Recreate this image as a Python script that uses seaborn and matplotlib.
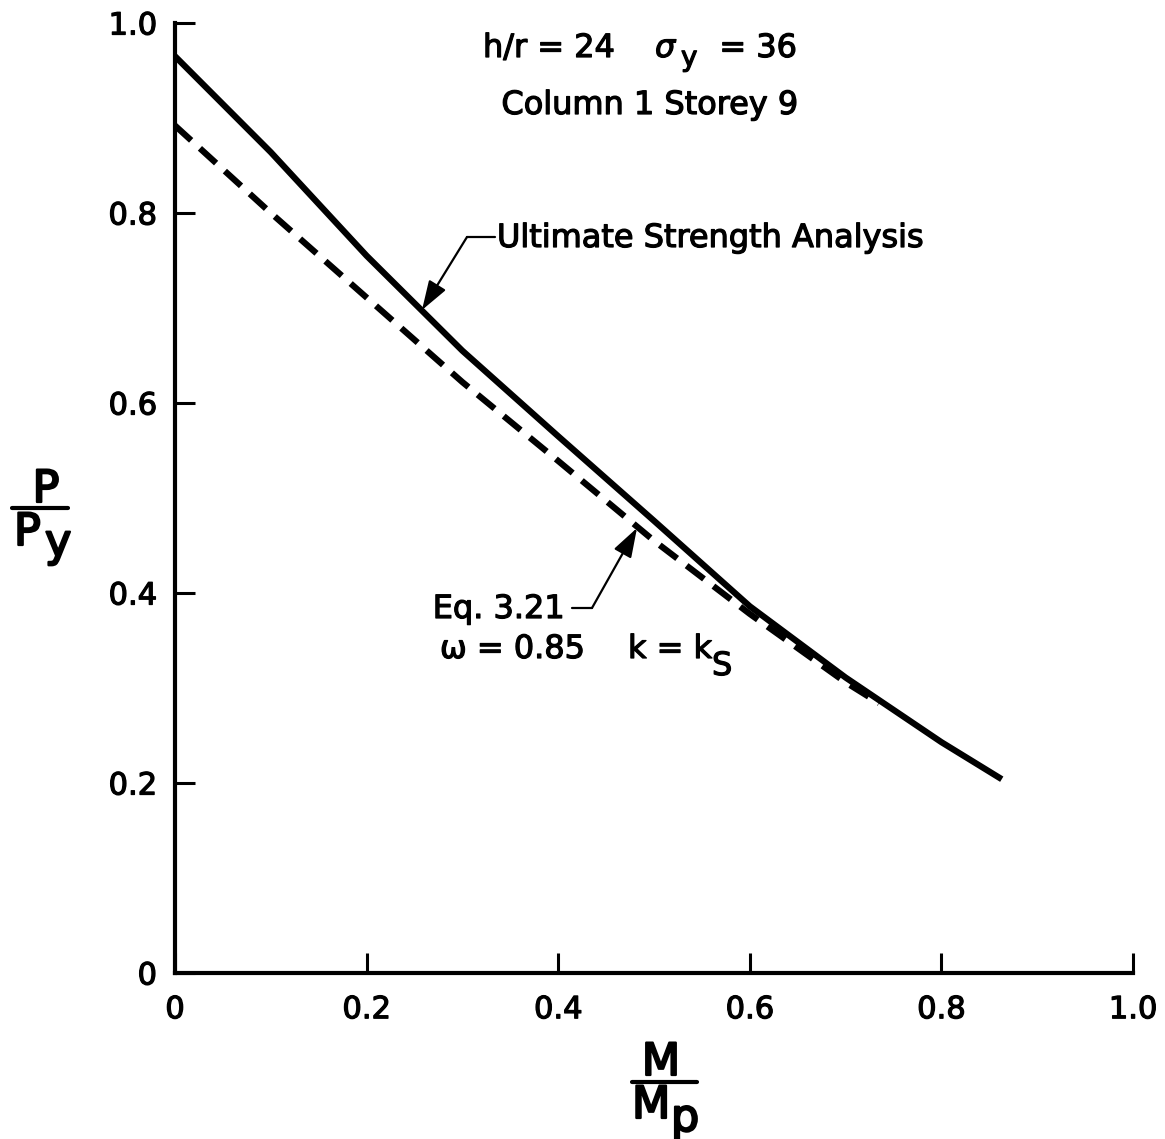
import matplotlib
matplotlib.use('Agg')
import matplotlib.pyplot as plt
import matplotlib.patheffects as pe
from matplotlib.lines import Line2D
import seaborn as sns
import pandas as pd

# ---- data ----
m_ultimate = [0.0, 0.1, 0.2, 0.3, 0.4, 0.5, 0.6, 0.7, 0.8, 0.863]
p_ultimate = [0.965, 0.864, 0.755, 0.655, 0.565, 0.476, 0.386, 0.311, 0.243, 0.204]

m_eq321 = [0.0, 0.1, 0.2, 0.3, 0.4, 0.5, 0.6, 0.7, 0.735]
p_eq321 = [0.892, 0.800, 0.711, 0.622, 0.539, 0.455, 0.378, 0.306, 0.284]

x_ticks = [0, 0.2, 0.4, 0.6, 0.8, 1.0]
x_tick_labels = ['0', '0.2', '0.4', '0.6', '0.8', '1.0']
y_ticks = [0, 0.2, 0.4, 0.6, 0.8, 1.0]
y_tick_labels = ['0', '0.2', '0.4', '0.6', '0.8', '1.0']

W, H = 1165, 1139

sns.set_style('ticks')
plt.rcParams['font.family'] = ['DejaVu Sans']
plt.rcParams['mathtext.fontset'] = 'dejavusans'

fig = plt.figure(figsize=(W / 100, H / 100), dpi=100)
ax = fig.add_axes([175 / W, 1 - 973 / H, (1133 - 175) / W, (973 - 23) / H])

df_u = pd.DataFrame({'M': m_ultimate, 'P': p_ultimate})
df_e = pd.DataFrame({'M': m_eq321, 'P': p_eq321})

sns.lineplot(data=df_u, x='M', y='P', ax=ax, color='black', linewidth=4.5,
             solid_capstyle='butt', solid_joinstyle='round')
sns.lineplot(data=df_e, x='M', y='P', ax=ax, color='black', linewidth=4.5,
             linestyle=(0, (3.5, 1.9)), dash_capstyle='butt')

ax.set_xlim(0, 1.0)
ax.set_ylim(0, 1.0)
ax.set_xticks(x_ticks)
ax.set_xticklabels(x_tick_labels)
ax.set_yticks(y_ticks)
ax.set_yticklabels(y_tick_labels)
ax.set_xlabel('')
ax.set_ylabel('')

for s in ['top', 'right']:
    ax.spines[s].set_visible(False)
for s in ['left', 'bottom']:
    ax.spines[s].set_linewidth(3)
    ax.spines[s].set_color('black')

ax.tick_params(direction='in', length=14.5, width=2.2, colors='black', labelsize=22)
ax.tick_params(axis='x', pad=16)
ax.tick_params(axis='y', pad=13)

thick = [pe.withStroke(linewidth=0.9, foreground='black')]
for lab in ax.get_xticklabels() + ax.get_yticklabels():
    lab.set_path_effects(thick)

def px(x):
    return (x - 175) / 958.0

def py(y):
    return (973 - y) / 950.0

txt = dict(color='black', fontsize=23, path_effects=thick)

# header texts
ax.text(px(483), py(57), 'h/r = 24', ha='left', va='baseline', **txt)
ax.text(px(655), py(57), 'σ', ha='left', va='baseline', style='italic', **txt)
ax.text(px(681), py(66), 'y', ha='left', va='baseline', color='black', fontsize=20,
        path_effects=thick)
ax.text(px(797), py(57), '= 36', ha='right', va='baseline', **txt)
ax.text(px(650), py(114), 'Column 1 Storey 9', ha='center', va='baseline', **txt)

# annotation: ultimate strength analysis
ax.annotate('', xy=(px(422), py(310)), xytext=(px(467), py(237)),
            arrowprops=dict(arrowstyle='-|>,head_length=0.6,head_width=0.2',
                            mutation_scale=30, color='black', lw=1.6,
                            shrinkA=0, shrinkB=0))
ax.annotate('', xy=(px(467), py(237)), xytext=(px(495), py(237)),
            arrowprops=dict(arrowstyle='-', color='black', lw=1.6,
                            shrinkA=0, shrinkB=0))
ax.text(px(497), py(247), 'Ultimate Strength Analysis', ha='left', va='baseline', **txt)

# annotation: Eq. 3.21
ax.annotate('', xy=(px(637), py(528)), xytext=(px(592), py(608)),
            arrowprops=dict(arrowstyle='-|>,head_length=0.6,head_width=0.2',
                            mutation_scale=30, color='black', lw=1.6,
                            shrinkA=0, shrinkB=0))
ax.annotate('', xy=(px(592), py(608)), xytext=(px(572), py(608)),
            arrowprops=dict(arrowstyle='-', color='black', lw=1.6,
                            shrinkA=0, shrinkB=0))
ax.text(px(565), py(618), 'Eq. 3.21', ha='right', va='baseline', **txt)
ax.text(px(440), py(658), 'ω = 0.85', ha='left', va='baseline', **txt)
ax.text(px(628), py(658), 'k = k', ha='left', va='baseline', **txt)
ax.text(px(712), py(675), 'S', ha='left', va='baseline', **txt)

# axis labels as fractions
big = dict(color='black', fontsize=32, path_effects=[pe.withStroke(linewidth=1.6, foreground='black')])
fig.text(46 / W, 1 - 502 / H, 'P', ha='center', va='baseline', **big)
fig.text(14 / W, 1 - 545 / H, 'P', ha='left', va='baseline', **big)
fig.text(45 / W, 1 - 556 / H, 'y', ha='left', va='baseline', **big)
fig.add_artist(Line2D([12 / W, 68 / W], [1 - 508 / H] * 2, transform=fig.transFigure,
                      color='black', lw=3))

fig.text(661 / W, 1 - 1075 / H, 'M', ha='center', va='baseline', **big)
fig.text(632 / W, 1 - 1118 / H, 'M', ha='left', va='baseline', **big)
fig.text(671 / W, 1 - 1131 / H, 'p', ha='left', va='baseline', **big)
fig.add_artist(Line2D([632 / W, 697 / W], [1 - 1082 / H] * 2, transform=fig.transFigure,
                      color='black', lw=3))

fig.savefig('out.png', dpi=100)
